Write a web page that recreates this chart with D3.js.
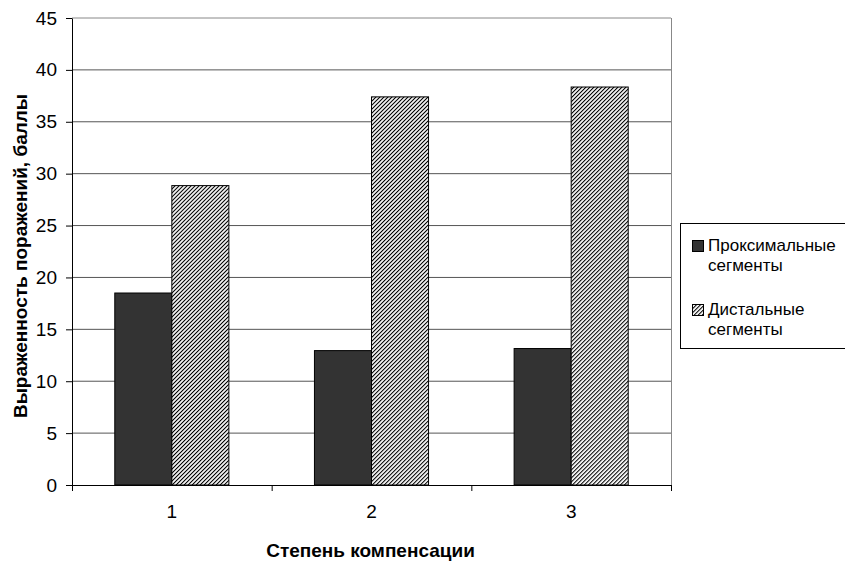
<!DOCTYPE html>
<html>
<head>
<meta charset="utf-8">
<script src="https://cdn.jsdelivr.net/npm/d3@7"></script>
<style>
    body { margin: 0; background: #fff; }
    svg { font-family: Arial, "Liberation Sans", sans-serif; }
</style>
</head>
<body>
<div id="chart"></div>
<script>
// данные с картинки
const categories = ["1", "2", "3"];
const seriesNames = ["Проксимальные сегменты", "Дистальные сегменты"];
const proximal = [18.5, 12.95, 13.15];
const distal = [28.85, 37.4, 38.35];
const yTicks = [0, 5, 10, 15, 20, 25, 30, 35, 40, 45];

const width = 845, height = 562;
const plot = {left: 72, right: 671, top: 18, bottom: 485};
const FONT = "Arial, 'Liberation Sans', sans-serif";

let svg = d3.select("#chart").append("svg")
    .attr("width", width)
    .attr("height", height);

// штриховка (мелкая, наклон вправо)
let defs = svg.append("defs");
defs.append("pattern")
    .attr("id", "hatch")
    .attr("patternUnits", "userSpaceOnUse")
    .attr("width", 2.83)
    .attr("height", 4)
    .attr("patternTransform", "rotate(45)")
    .call(p => {
        p.append("rect").attr("width", 2.83).attr("height", 4).attr("fill", "#fff");
        p.append("rect").attr("width", 1.05).attr("height", 4).attr("fill", "#000");
    });

let x = d3.scaleBand().domain(categories).range([plot.left, plot.right]).padding(0);
let xSub = d3.scaleBand().domain(seriesNames).range([0, x.bandwidth()])
    .paddingInner(0).paddingOuter(0.75);
let y = d3.scaleLinear().domain([0, 45]).range([plot.bottom, plot.top]);

// сетка
svg.append("g").selectAll("line")
    .data(yTicks.filter(t => t > 0))
    .enter().append("line")
    .attr("x1", plot.left).attr("x2", plot.right)
    .attr("y1", d => y(d)).attr("y2", d => y(d))
    .attr("stroke", d => d === 45 ? "#888" : "#555")
    .attr("stroke-width", 1);

// правая граница области
svg.append("line")
    .attr("x1", plot.right + 0.5).attr("x2", plot.right + 0.5)
    .attr("y1", plot.top).attr("y2", plot.bottom)
    .attr("stroke", "#888");

// столбики
let fills = ["#333333", "url(#hatch)"];
let data = categories.map((c, i) => ({cat: c, values: [proximal[i], distal[i]]}));
data.forEach(d => {
    d.values.forEach((v, j) => {
        svg.append("rect")
            .attr("x", x(d.cat) + xSub(seriesNames[j]))
            .attr("y", y(v))
            .attr("width", xSub.bandwidth())
            .attr("height", y(0) - y(v))
            .attr("fill", fills[j])
            .attr("stroke", "#000")
            .attr("stroke-width", 1);
    });
});

// ось Y
let yAxis = svg.append("g")
    .attr("transform", "translate(" + plot.left + ",0)")
    .call(d3.axisLeft(y).tickValues(yTicks).tickSize(6).tickPadding(9).tickSizeOuter(0));
yAxis.select(".domain").attr("stroke", "#000");
yAxis.selectAll("text").attr("font-size", 19).attr("fill", "#000").attr("font-family", FONT);

// ось X: деления на границах категорий
let xEdges = d3.scaleLinear().domain([0, 3]).range([plot.left, plot.right]);
svg.append("g")
    .attr("transform", "translate(0," + plot.bottom + ")")
    .call(d3.axisBottom(xEdges).tickValues([0, 1, 2, 3]).tickFormat("").tickSize(6).tickSizeOuter(0));
let xAxis = svg.append("g")
    .attr("transform", "translate(0," + plot.bottom + ")")
    .call(d3.axisBottom(x).tickSize(0).tickPadding(20));
xAxis.select(".domain").remove();
xAxis.selectAll("text").attr("font-size", 19).attr("fill", "#000").attr("font-family", FONT);

// подписи осей
svg.append("text")
    .attr("transform", "translate(27,256) rotate(-90)")
    .attr("text-anchor", "middle")
    .attr("font-size", 19)
    .attr("font-weight", "bold")
    .text("Выраженность поражений, баллы");
svg.append("text")
    .attr("x", 370.5)
    .attr("y", 557)
    .attr("text-anchor", "middle")
    .attr("font-size", 19)
    .attr("font-weight", "bold")
    .text("Степень компенсации");

// легенда
let legend = svg.append("g");
legend.append("rect")
    .attr("x", 680.5).attr("y", 223.5)
    .attr("width", 170).attr("height", 125)
    .attr("fill", "#fff").attr("stroke", "#000");
let legendRows = [
    {lines: ["Проксимальные", "сегменты"], base: 251},
    {lines: ["Дистальные", "сегменты"], base: 315}
];
legendRows.forEach((r, i) => {
    legend.append("rect")
        .attr("x", 692.5).attr("y", r.base - 10.5)
        .attr("width", 11).attr("height", 11)
        .attr("fill", fills[i]).attr("stroke", "#000");
    r.lines.forEach((t, k) => {
        legend.append("text")
            .attr("x", 708)
            .attr("y", r.base + k * 20)
            .attr("font-size", 17)
            .text(t);
    });
});
</script>
</body>
</html>
